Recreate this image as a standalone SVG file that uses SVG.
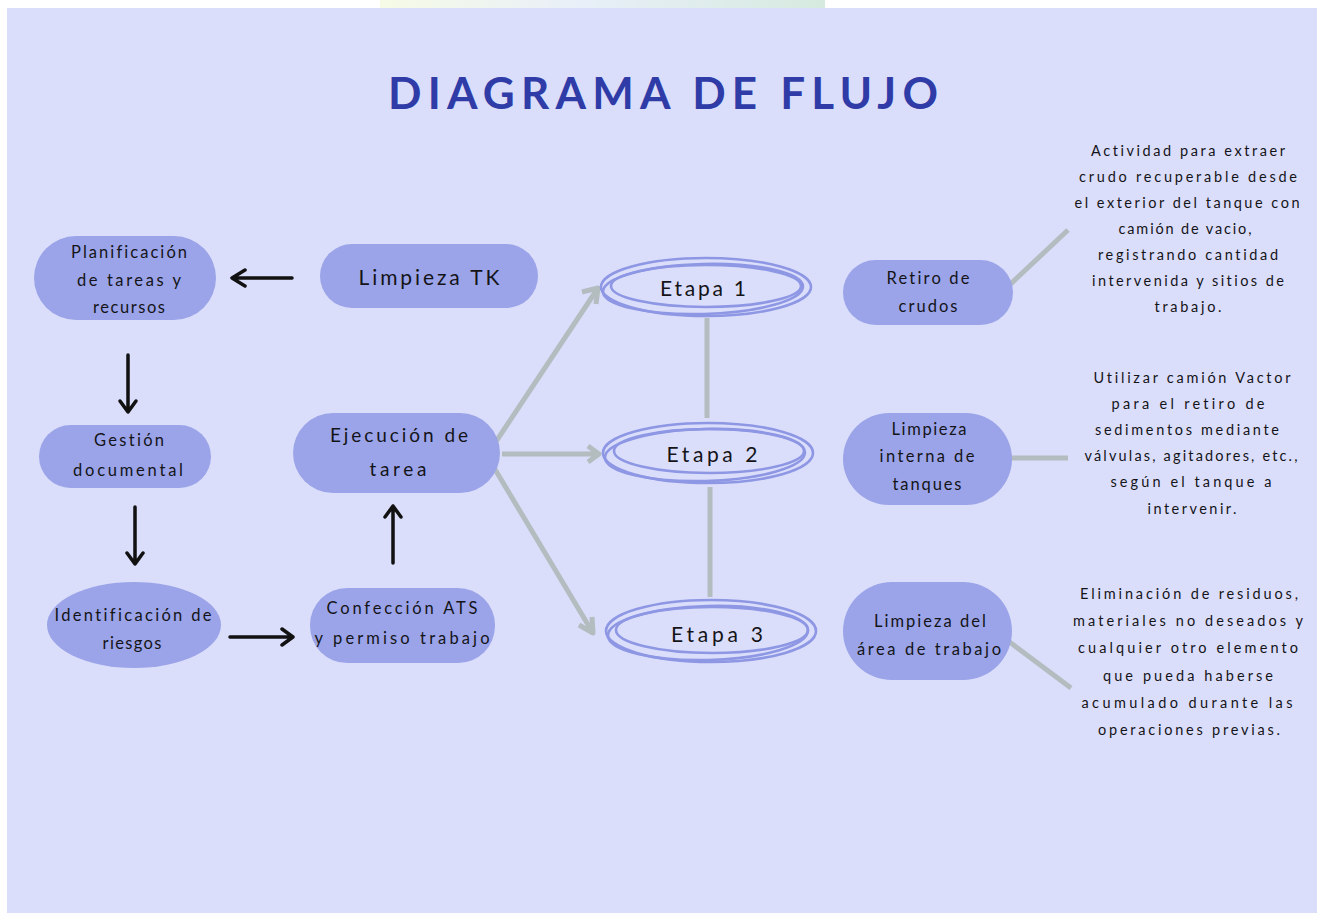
<svg xmlns="http://www.w3.org/2000/svg" width="1324" height="913" viewBox="0 0 1324 913">
<defs>
<linearGradient id="ghost" x1="0" y1="0" x2="1" y2="0">
<stop offset="0" stop-color="#f6fbe6"/><stop offset="0.45" stop-color="#e8eff8"/><stop offset="1" stop-color="#d6eadf"/>
</linearGradient>
<style>
.node{fill:#9ba4e8}
.t{font-family:"Lato","Liberation Sans",sans-serif;fill:#141418;text-anchor:middle;dominant-baseline:central;font-variant-ligatures:none;font-feature-settings:"liga" 0,"clig" 0}
.n{font-size:16.5px}
.d{font-size:14.5px}
.et{font-size:21px}
.ring{fill:none;stroke:#8e97e4;stroke-width:2.6}
.blk{fill:none;stroke:#111;stroke-width:3.5;stroke-linecap:round;stroke-linejoin:round}
.gry{fill:none;stroke:#b3bcbf;stroke-width:5;stroke-linecap:butt;stroke-linejoin:round}
</style>
</defs>
<rect x="0" y="0" width="1324" height="913" fill="#ffffff"/>
<rect x="380" y="0" width="445" height="8" fill="url(#ghost)"/>
<rect x="7" y="8" width="1310" height="905" fill="#dbdefb"/>

<g id="title">
<text x="663" y="92" font-family="Lato,'Liberation Sans',sans-serif" font-weight="700" font-size="44" fill="#2f3ca8" text-anchor="middle" dominant-baseline="central" textLength="550" lengthAdjust="spacing">DIAGRAMA DE FLUJO</text>
</g>

<g id="connectors">
<path class="blk" d="M292 278 H232 M245 270 L232 278 L245 286"/>
<path class="blk" d="M128 355 V412 M120 401 L128 412 L136 401"/>
<path class="blk" d="M135 507 V564 M127 553 L135 564 L143 553"/>
<path class="blk" d="M230 637 H293 M282 629 L293 637 L282 645"/>
<path class="blk" d="M393 563 V506 M385 517 L393 506 L401 517"/>
<path class="gry" d="M487 455 L598 288 M582 292 L598 288 L596 304"/>
<path class="gry" d="M502 454 H599 M588 446 L599 454 L588 462"/>
<path class="gry" d="M487 456 L593 633 M592 617 L593 633 L579 625"/>
<path class="gry" d="M707 318 V418"/>
<path class="gry" d="M710 487 V597"/>
<path class="gry" d="M1001 293 L1068 230"/>
<path class="gry" d="M1002 458 H1068"/>
<path class="gry" d="M1003 637 L1071 688"/>
</g>

<g id="planificacion">
<rect class="node" x="34" y="236" width="182" height="84" rx="42"/>
<text class="t n" x="129" y="252" textLength="116">Planificación</text>
<text class="t n" x="129" y="280" textLength="104">de tareas y</text>
<text class="t n" x="129" y="307" textLength="72">recursos</text>
</g>
<g id="limpieza-tk">
<rect class="node" x="320" y="244" width="218" height="64" rx="32"/>
<text class="t" font-size="21" x="429" y="276" textLength="141">Limpieza TK</text>
</g>
<g id="gestion">
<rect class="node" x="39" y="425" width="172" height="63" rx="31.5"/>
<text class="t n" x="129" y="440" textLength="70">Gestión</text>
<text class="t n" x="128" y="470" textLength="110">documental</text>
</g>
<g id="identificacion">
<ellipse class="node" cx="134" cy="625" rx="87" ry="43"/>
<text class="t n" x="133" y="615" textLength="157">Identificación de</text>
<text class="t n" x="132" y="643" textLength="59">riesgos</text>
</g>
<g id="confeccion">
<rect class="node" x="310" y="588" width="185" height="75" rx="37"/>
<text class="t n" x="402" y="608" textLength="151">Confección ATS</text>
<text class="t n" x="402" y="638" textLength="175">y permiso trabajo</text>
</g>
<g id="ejecucion">
<rect class="node" x="293" y="413" width="207" height="80" rx="40"/>
<text class="t" font-size="19" x="399" y="434" textLength="138">Ejecución de</text>
<text class="t" font-size="19" x="398" y="468" textLength="57">tarea</text>
</g>

<g id="etapa1">
<ellipse class="ring" cx="706" cy="287" rx="105" ry="29"/>
<ellipse class="ring" cx="703" cy="289" rx="100" ry="25" transform="rotate(-1.5 703 289)"/>
<ellipse class="ring" cx="706" cy="286" rx="95" ry="21"/>
<text class="t et" x="703" y="287" textLength="86">Etapa 1</text>
</g>
<g id="etapa2">
<ellipse class="ring" cx="708" cy="453" rx="105" ry="30"/>
<ellipse class="ring" cx="705" cy="455" rx="100" ry="26" transform="rotate(-1.5 705 455)"/>
<ellipse class="ring" cx="709" cy="451" rx="95" ry="22"/>
<text class="t et" x="712" y="453" textLength="91">Etapa 2</text>
</g>
<g id="etapa3">
<ellipse class="ring" cx="711" cy="631" rx="105" ry="31"/>
<ellipse class="ring" cx="708" cy="633" rx="100" ry="27" transform="rotate(-1.5 708 633)"/>
<ellipse class="ring" cx="712" cy="630" rx="96" ry="23"/>
<text class="t et" x="717" y="633" textLength="92">Etapa 3</text>
</g>

<g id="retiro">
<rect class="node" x="843" y="260" width="170" height="65" rx="32.5"/>
<text class="t n" x="928" y="278" textLength="83">Retiro de</text>
<text class="t n" x="928" y="306" textLength="59">crudos</text>
</g>
<g id="limpieza-interna">
<rect class="node" x="843" y="413" width="169" height="92" rx="46"/>
<text class="t n" x="929" y="429" textLength="75">Limpieza</text>
<text class="t n" x="927" y="456" textLength="95">interna de</text>
<text class="t n" x="927" y="484" textLength="69">tanques</text>
</g>
<g id="limpieza-area">
<rect class="node" x="843" y="582" width="169" height="98" rx="49"/>
<text class="t n" x="930" y="621" textLength="112">Limpieza del</text>
<text class="t n" x="929" y="649" textLength="144">área de trabajo</text>
</g>

<g id="desc-retiro">
<text class="t d" x="1188" y="150" textLength="194">Actividad para extraer</text>
<text class="t d" x="1188" y="176" textLength="218">crudo  recuperable desde</text>
<text class="t d" x="1187" y="202" textLength="225">el exterior del tanque con</text>
<text class="t d" x="1185" y="228" textLength="133">camión de vacio,</text>
<text class="t d" x="1188" y="254" textLength="180">registrando cantidad</text>
<text class="t d" x="1188" y="280" textLength="192">intervenida y sitios de</text>
<text class="t d" x="1188" y="306" textLength="67">trabajo.</text>
</g>
<g id="desc-interna">
<text class="t d" x="1192" y="377" textLength="197">Utilizar camión Vactor</text>
<text class="t d" x="1188" y="403" textLength="153">para el retiro de</text>
<text class="t d" x="1187" y="429" textLength="184">sedimentos mediante</text>
<text class="t d" x="1191" y="455" textLength="213">válvulas, agitadores, etc.,</text>
<text class="t d" x="1191" y="481" textLength="161">según  el tanque a</text>
<text class="t d" x="1192" y="508" textLength="89">intervenir.</text>
</g>
<g id="desc-area">
<text class="t d" x="1189" y="593" textLength="218">Eliminación de residuos,</text>
<text class="t d" x="1188" y="620" textLength="230">materiales no deseados y</text>
<text class="t d" x="1188" y="647" textLength="220">cualquier otro elemento</text>
<text class="t d" x="1188" y="675" textLength="170">que pueda haberse</text>
<text class="t d" x="1187" y="702" textLength="211">acumulado durante las</text>
<text class="t d" x="1189" y="729" textLength="182">operaciones previas.</text>
</g>
</svg>
